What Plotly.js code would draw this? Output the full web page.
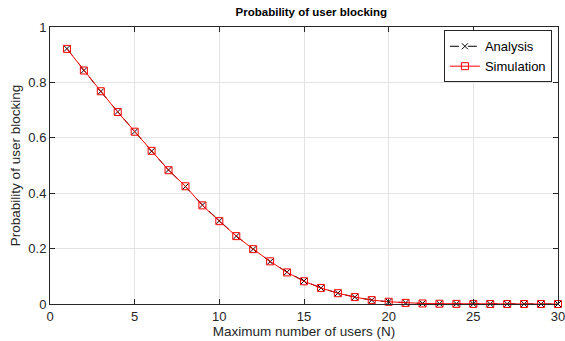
<!DOCTYPE html>
<html><head><meta charset="utf-8">
<script src="https://cdn.plot.ly/plotly-3.0.1.min.js"></script>
<style>html,body{margin:0;padding:0;background:#fff}#c{width:565px;height:341px}</style>
</head><body><div id="c"></div>
<script>
const N = [1,2,3,4,5,6,7,8,9,10,11,12,13,14,15,16,17,18,19,20,21,22,23,24,25,26,27,28,29,30];
const analysis = [0.922,0.843,0.767,0.694,0.622,0.552,0.484,0.424,0.357,0.300,0.245,0.198,0.153,0.115,0.083,0.058,0.039,0.025,0.014,0.008,0.004,0.002,0.001,0.0005,0.0002,0.0001,0.00005,0.00002,0.00001,0.000005];
const simulation = [0.921,0.843,0.768,0.693,0.622,0.553,0.483,0.425,0.356,0.299,0.245,0.198,0.154,0.114,0.082,0.058,0.039,0.025,0.014,0.008,0.004,0.002,0.001,0.0005,0.0002,0.0001,0.00005,0.00002,0.00001,0.000005];
const xTicks = [0,5,10,15,20,25,30];
const yTicks = [0,0.2,0.4,0.6,0.8,1];

const font = 'Liberation Sans, Arial, sans-serif';
const traces = [
  {x:N, y:analysis, name:'Analysis', mode:'lines+markers', type:'scatter', cliponaxis:false,
   line:{color:'#000', width:1, dash:'dash'},
   marker:{symbol:'x-thin-open', size:6, line:{color:'#000', width:1}}},
  {x:N, y:simulation, name:'Simulation', mode:'lines+markers', type:'scatter', cliponaxis:false,
   line:{color:'#ff0000', width:1},
   marker:{symbol:'square-open', size:7, color:'#ff0000', line:{color:'#ff0000', width:1}}}
];
const axis = {showline:true, mirror:'ticks', linecolor:'#262626', linewidth:1,
  ticks:'inside', ticklen:5, tickcolor:'#262626', showgrid:true, gridcolor:'#e3e3e3',
  zeroline:false, ticklabeloverflow:'allow', automargin:false, tickfont:{family:font, size:13, color:'#262626'}};
const layout = {
  width:565, height:341, paper_bgcolor:'#fff', plot_bgcolor:'#fff',
  margin:{l:50, r:7, t:27, b:37},
  title:{text:'<b>Probability of user blocking</b>', font:{family:font, size:11.5, color:'#000'}, x:0.551, xanchor:'center', y:0.965, yanchor:'middle'},
  xaxis:Object.assign({}, axis, {range:[0,30.0001], tickvals:xTicks, ticktext:xTicks.map(String),
    title:{text:'Maximum number of users (N)', font:{family:font, size:13.5, color:'#262626'}, standoff:1}}),
  yaxis:Object.assign({}, axis, {range:[0,1], tickvals:yTicks, ticktext:yTicks.map(String),
    title:{text:'Probability of user blocking', font:{family:font, size:13.5, color:'#262626'}, standoff:4}}),
  showlegend:true,
  legend:{x:0.988, xanchor:'right', y:0.988, yanchor:'top', bordercolor:'#262626', borderwidth:1,
    bgcolor:'#fff', font:{family:font, size:13, color:'#000'}, tracegroupgap:0, itemwidth:30},
};
Plotly.newPlot('c', traces, layout, {staticPlot:true});
</script></body></html>
